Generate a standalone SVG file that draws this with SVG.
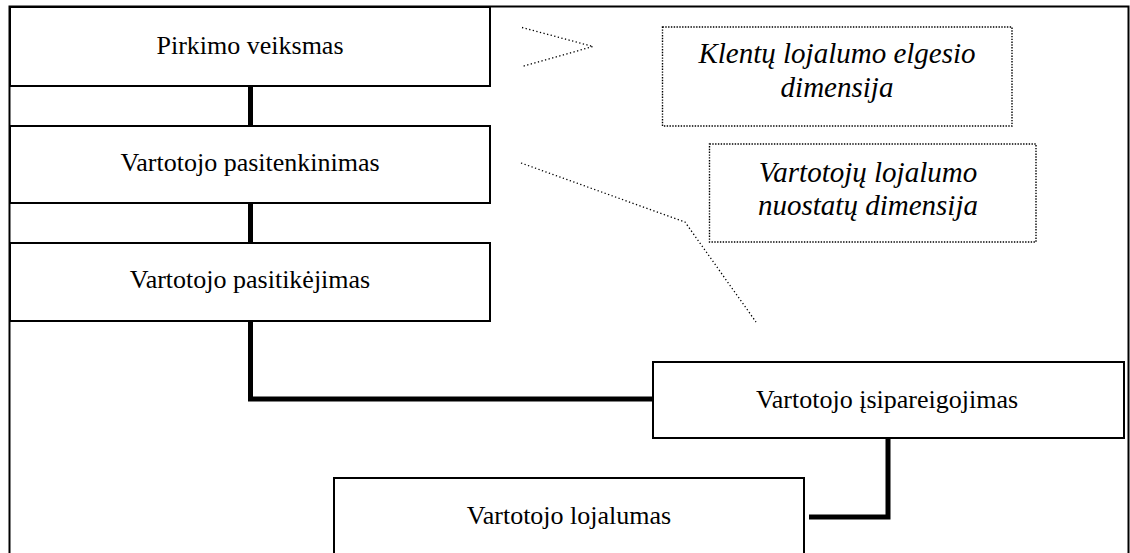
<svg xmlns="http://www.w3.org/2000/svg" width="1130" height="553" viewBox="0 0 1130 553">
<style>
.box{fill:#fff;stroke:#000;stroke-width:2}
.lbl{font-size:26px;text-anchor:middle;fill:#000}
.it{font-size:29px;font-style:italic;text-anchor:middle;fill:#000}
.dbox{fill:none;stroke:#000;stroke-width:1.4;stroke-dasharray:1.4 1.4}
.dline{fill:none;stroke:#000;stroke-width:1.3;stroke-dasharray:1.3 2.4}
.conn{fill:none;stroke:#000;stroke-width:5}
</style>
<rect width="1130" height="553" fill="#fff"/>
<g id="frame">
<path d="M9.5,553 V6.5 H1128.5 V553" fill="none" stroke="#000" stroke-width="2"/>
</g>
<g id="connectors">
<path class="conn" d="M250.5,86 V126"/>
<path class="conn" d="M250.5,203 V243"/>
<path class="conn" d="M250.5,321 V399 H653"/>
<path class="conn" d="M888,438 V517 H809"/>
</g>
<g font-family="'Liberation Serif', 'Times New Roman', Times, 'DejaVu Serif', serif">
<g id="n1"><rect class="box" x="10" y="7" width="480" height="79"/><text class="lbl" x="250" y="54">Pirkimo veiksmas</text></g>
<g id="n2"><rect class="box" x="10" y="126" width="480" height="77"/><text class="lbl" x="250" y="171">Vartotojo pasitenkinimas</text></g>
<g id="n3"><rect class="box" x="10" y="243" width="480" height="78"/><text class="lbl" x="250" y="288">Vartotojo pasitikėjimas</text></g>
<g id="n4"><rect class="box" x="653" y="362" width="471" height="76"/><text class="lbl" x="887" y="408">Vartotojo įsipareigojimas</text></g>
<g id="n5"><rect class="box" x="334" y="478" width="470" height="90"/><text class="lbl" x="569" y="524">Vartotojo lojalumas</text></g>
<g id="dim1"><rect class="dbox" x="662.5" y="27" width="349.5" height="99"/><text class="it" x="837" y="63">Klentų lojalumo elgesio</text><text class="it" x="837" y="97">dimensija</text></g>
<g id="dim2"><rect class="dbox" x="709.5" y="144" width="326.5" height="98"/><text class="it" x="868" y="182">Vartotojų lojalumo</text><text class="it" x="868" y="215">nuostatų dimensija</text></g>
</g>
<g id="brackets">
<path class="dline" d="M522,27.5 L593,46.5 L522,66.5"/>
<path class="dline" d="M521,163 L685,222 L756,322"/>
</g>
</svg>
